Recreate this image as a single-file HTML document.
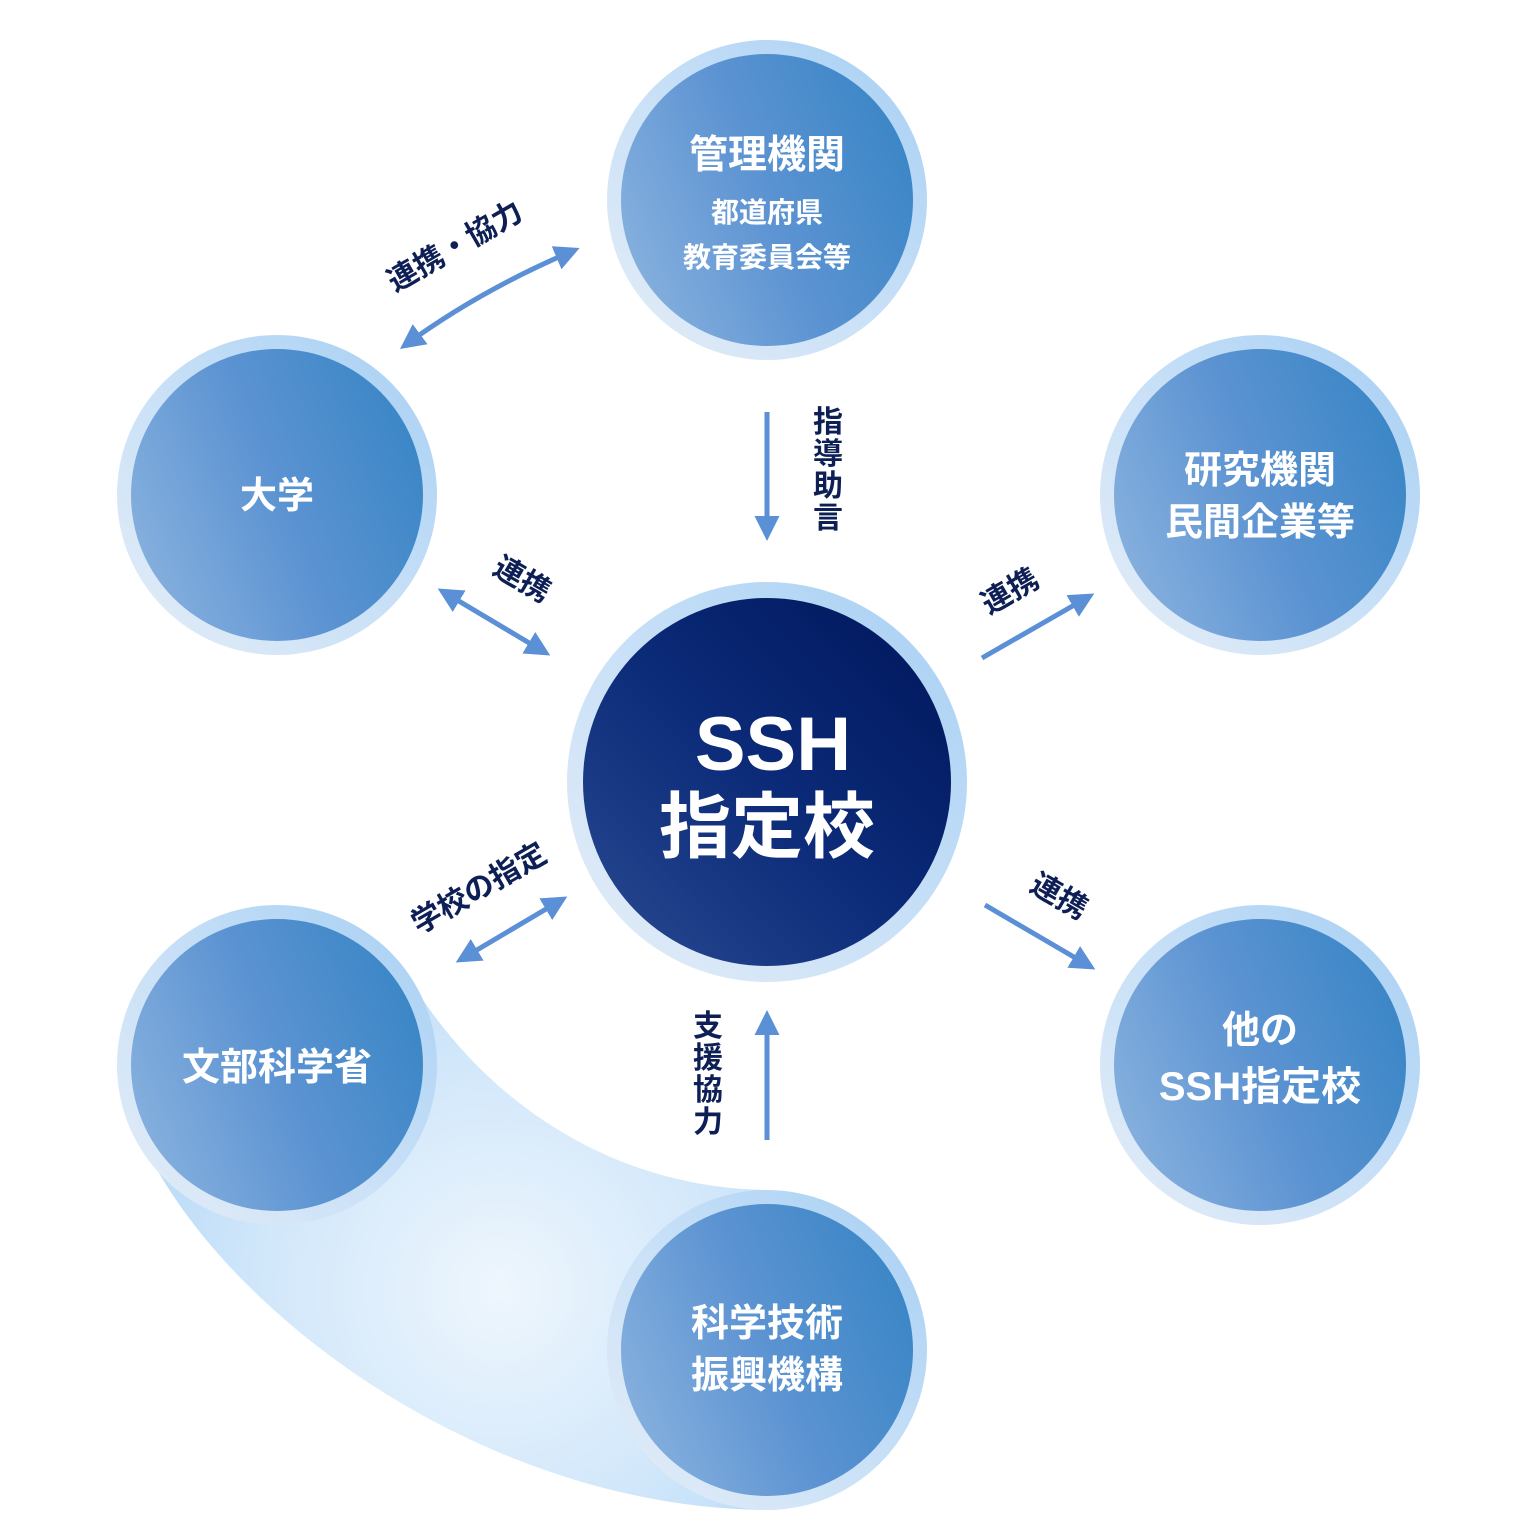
<!DOCTYPE html>
<html><head><meta charset="utf-8"><style>
html,body{margin:0;padding:0;background:#fff;}
svg{display:block;}
text{font-family:"Liberation Sans","Noto Sans CJK JP",sans-serif;font-weight:bold;}
</style></head><body>
<svg width="1536" height="1536" viewBox="0 0 1536 1536" xmlns="http://www.w3.org/2000/svg">
<defs>
<linearGradient id="ring" x1="0" y1="1" x2="1" y2="0">
<stop offset="0" stop-color="#e4edf7"/><stop offset="0.5" stop-color="#c8e0f7"/><stop offset="1" stop-color="#a6cff4"/>
</linearGradient>
<linearGradient id="fill" x1="0" y1="0.7" x2="1" y2="0.3">
<stop offset="0" stop-color="#86b0de"/><stop offset="0.5" stop-color="#5c93d2"/><stop offset="1" stop-color="#3a86c6"/>
</linearGradient>
<linearGradient id="center" x1="0" y1="1" x2="1" y2="0">
<stop offset="0" stop-color="#2a4b93"/><stop offset="0.5" stop-color="#0b2a78"/><stop offset="1" stop-color="#00165a"/>
</linearGradient>
<radialGradient id="blob" cx="500" cy="1290" r="420" gradientUnits="userSpaceOnUse">
<stop offset="0" stop-color="#eef6fd"/><stop offset="0.6" stop-color="#cfe6fa"/><stop offset="1" stop-color="#b0d6f6"/>
</radialGradient>
<marker id="ah" viewBox="0 0 10 10" refX="8" refY="5" markerWidth="5" markerHeight="5" orient="auto-start-reverse">
<path d="M0,0 L10,5 L0,10 z" fill="#5b8fd6"/>
</marker>
</defs>

<path d="M117,1065 C150,1260 450,1508 767,1510 L767,1190 C620,1188 490,1110 410,980 Z" fill="url(#blob)"/>

<g>
<circle cx="767" cy="200" r="160" fill="url(#ring)"/><circle cx="767" cy="200" r="146" fill="url(#fill)"/>
<circle cx="277" cy="495" r="160" fill="url(#ring)"/><circle cx="277" cy="495" r="146" fill="url(#fill)"/>
<circle cx="1260" cy="495" r="160" fill="url(#ring)"/><circle cx="1260" cy="495" r="146" fill="url(#fill)"/>
<circle cx="277" cy="1065" r="160" fill="url(#ring)"/><circle cx="277" cy="1065" r="146" fill="url(#fill)"/>
<circle cx="1260" cy="1065" r="160" fill="url(#ring)"/><circle cx="1260" cy="1065" r="146" fill="url(#fill)"/>
<circle cx="767" cy="1350" r="160" fill="url(#ring)"/><circle cx="767" cy="1350" r="146" fill="url(#fill)"/>
<circle cx="767" cy="782" r="200" fill="url(#ring)"/><circle cx="767" cy="782" r="184" fill="url(#center)"/>
</g>

<g fill="#fff" text-anchor="middle">
<text x="767" y="168" font-size="39">管理機関</text>
<text x="767" y="222" font-size="28">都道府県</text>
<text x="767" y="267" font-size="28">教育委員会等</text>
<text x="277" y="508" font-size="37">大学</text>
<text x="1260" y="483" font-size="38">研究機関</text>
<text x="1260" y="535" font-size="38">民間企業等</text>
<text x="277" y="1080" font-size="38">文部科学省</text>
<text x="1260" y="1043" font-size="38">他の</text>
<text x="1260" y="1100" font-size="40">SSH指定校</text>
<text x="767" y="1336" font-size="38">科学技術</text>
<text x="767" y="1388" font-size="38">振興機構</text>
<text x="773" y="770" font-size="76">SSH</text>
<text x="767" y="852" font-size="72">指定校</text>
</g>

<g stroke="#5b8fd6" stroke-width="5" fill="none" marker-end="url(#ah)">
<path d="M404,346 Q480,290 575,250" marker-start="url(#ah)"/>
<line x1="767" y1="412" x2="767" y2="536"/>
<line x1="442" y1="591" x2="546" y2="653" marker-start="url(#ah)"/>
<line x1="982" y1="658" x2="1090" y2="596"/>
<line x1="460" y1="960" x2="563" y2="899" marker-start="url(#ah)"/>
<line x1="985" y1="905" x2="1091" y2="967"/>
<line x1="767" y1="1140" x2="767" y2="1015"/>
</g>

<g fill="#0d1f55" font-size="30" text-anchor="middle">
<text transform="translate(460,255) rotate(-30)">連携・協力</text>
<text transform="translate(517,588) rotate(30)">連携</text>
<text transform="translate(1015,600) rotate(-30)">連携</text>
<text transform="translate(1054,905) rotate(30)">連携</text>
<text transform="translate(484,897) rotate(-30)">学校の指定</text>
<text x="828" y="432">指</text><text x="828" y="464">導</text><text x="828" y="496">助</text><text x="828" y="528">言</text>
<text x="708" y="1036">支</text><text x="708" y="1068">援</text><text x="708" y="1100">協</text><text x="708" y="1132">力</text>
</g>
</svg>
</body></html>
